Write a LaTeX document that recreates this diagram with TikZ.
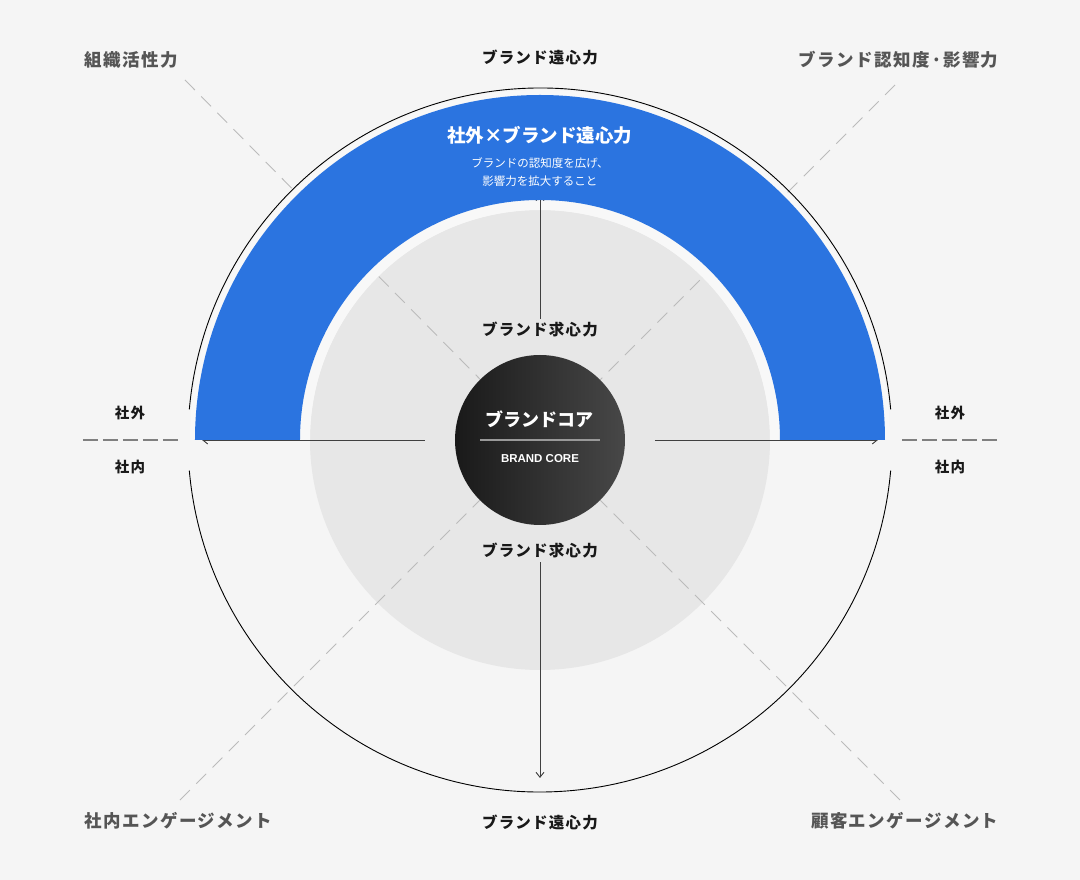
\documentclass[tikz,border=0pt]{standalone}
\usepackage{fontspec}
\setmainfont{Noto Sans CJK JP}
\newfontfamily\espace[LetterSpace=8]{Noto Sans CJK JP}
\newfontfamily\latin{Liberation Sans}
\usetikzlibrary{arrows.meta}
\definecolor{fond}{HTML}{F5F5F5}
\definecolor{anneau}{HTML}{F8F8F8}
\definecolor{disque}{HTML}{E7E7E7}
\definecolor{bleu}{HTML}{2B74E0}
\definecolor{gristexte}{HTML}{555555}
\definecolor{tiret}{HTML}{BBBBBB}
\begin{document}
\begin{tikzpicture}[x=1pt,y=1pt,
  coin/.style={font=\espace\bfseries\fontsize{17.5}{20}\selectfont,text=gristexte},
  force/.style={font=\espace\bfseries\fontsize{15.5}{18}\selectfont,text=black!90},
  cote/.style={font=\espace\bfseries\fontsize{14.5}{17}\selectfont,text=black!90},
  fleche/.style={draw=black!75,line width=0.9pt,-{Straight Barb[length=5pt,width=8pt]}},
  diag/.style={draw=tiret,line width=0.9pt,dash pattern=on 14pt off 9pt},
  limite/.style={draw=black!50,line width=1.4pt,dash pattern=on 15pt off 5pt}]
%fond
\fill[fond] (-540,-440) rectangle (540,440);
\useasboundingbox (-540,-440) rectangle (540,440);
%disque gris
\coordinate (O) at (0,0);
\fill[disque] (O) circle (230);
%diagonales
\coordinate (hg) at (-355,360);
\coordinate (hd) at (355,355);
\coordinate (bg) at (-360,-360);
\coordinate (bd) at (360,-360);
\foreach \c in {hg,hd,bg,bd} \draw[diag] (\c) -- (O);
\fill[anneau] (0:230) arc (0:180:230) -- (180:350) arc (180:0:350) -- cycle;
%grand cercle (deux arcs)
\draw[line width=0.9pt] (5:352) arc (5:175:352);
\draw[line width=0.9pt] (185:352) arc (185:355:352);
%limites dedans / dehors
\draw[limite] (-457,0) -- (-362,0);
\draw[limite] (362,0) -- (458,0);
%fleches
\coordinate (g0) at (-115,0);
\coordinate (g1) at (-338,0);
\coordinate (d0) at (115,0);
\coordinate (d1) at (338,0);
\draw[fleche] (g0) -- (g1);
\draw[fleche] (d0) -- (d1);
\node[force] (kh) at (0,110) {ブランド求心力};
\node[force] (kb) at (0,-111) {ブランド求心力};
\coordinate (bh) at (0,245);
\coordinate (bb) at (0,-338);
\draw[fleche] (kh) -- (bh);
\draw[fleche] (kb) -- (bb);
%demi anneau bleu
\fill[bleu] (0:240) arc (0:180:240) -- (180:345) arc (180:0:345) -- cycle;
\node[font=\bfseries\fontsize{18.5}{21}\selectfont,text=white] (titre) at (0,305) {社外×ブランド遠心力};
\node[font=\fontsize{11.5}{18}\selectfont,text=white,align=center] (soustitre) at (0,268) {ブランドの認知度を広げ、\\影響力を拡大すること};
%coeur
\shade[left color=black!90,right color=black!72] (O) circle (85);
\node[font=\bfseries\fontsize{18}{21}\selectfont,text=white] (coeur) at (0,21) {ブランドコア};
\draw[black!40,line width=1.4pt] (-60,0) -- (60,0);
\node[font=\latin\bfseries\fontsize{11.5}{13}\selectfont,text=white] (core) at (0,-19) {BRAND CORE};
%textes
\node[force] (eh) at (0,382) {ブランド遠心力};
\node[force] (eb) at (0,-383) {ブランド遠心力};
\node[cote] (sg) at (-410,27) {社外};
\node[cote] (ng) at (-410,-27) {社内};
\node[cote] (sd) at (410,27) {社外};
\node[cote] (nd) at (410,-27) {社内};
\node[coin,anchor=west] (c1) at (-459,380) {組織活性力};
\node[coin,anchor=east] (c2) at (462,380) {ブランド認知度·影響力};
\node[coin,anchor=west] (c3) at (-459,-381) {社内エンゲージメント};
\node[coin,anchor=east] (c4) at (462,-381) {顧客エンゲージメント};
\end{tikzpicture}
\end{document}
